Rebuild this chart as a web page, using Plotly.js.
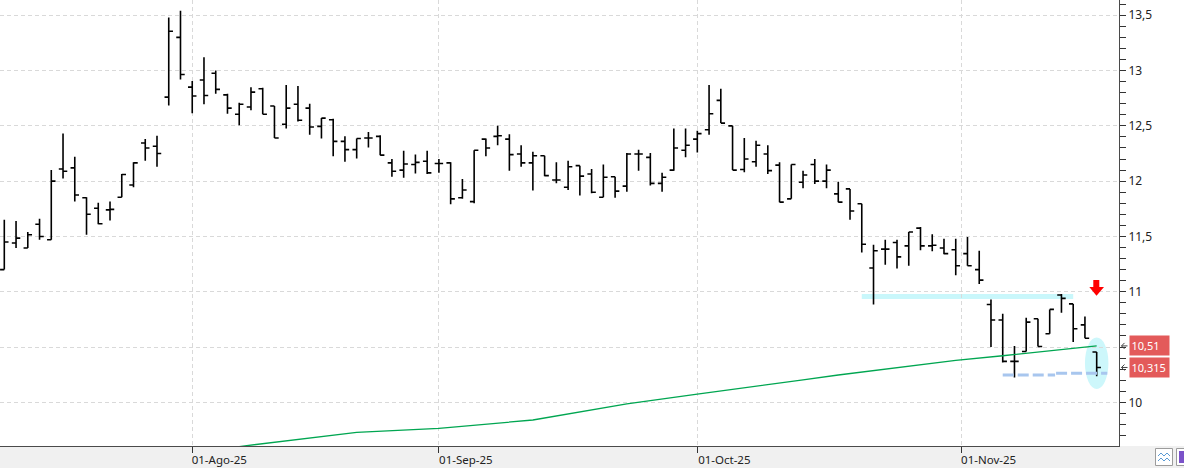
<!DOCTYPE html>
<html>
<head>
<meta charset="utf-8">
<script src="https://cdn.plot.ly/plotly-3.0.1.min.js"></script>
<style>
  html, body { margin: 0; padding: 0; background: #ffffff; }
  #chart { width: 1184px; height: 468px; }
</style>
</head>
<body>
<div id="chart"></div>
<script>
// ---- data (trading days) ----
const dates = [
  '2025-07-10','2025-07-11','2025-07-14','2025-07-15','2025-07-16','2025-07-17','2025-07-18',
  '2025-07-21','2025-07-22','2025-07-23','2025-07-24','2025-07-25','2025-07-28','2025-07-29',
  '2025-07-30','2025-07-31',
  '2025-08-01','2025-08-04','2025-08-05','2025-08-06','2025-08-07','2025-08-08','2025-08-11',
  '2025-08-12','2025-08-13','2025-08-14','2025-08-15','2025-08-18','2025-08-19','2025-08-20',
  '2025-08-21','2025-08-22','2025-08-25','2025-08-26','2025-08-27','2025-08-28','2025-08-29',
  '2025-09-01','2025-09-02','2025-09-03','2025-09-04','2025-09-05','2025-09-08','2025-09-09',
  '2025-09-10','2025-09-11','2025-09-12','2025-09-15','2025-09-16','2025-09-17','2025-09-18',
  '2025-09-19','2025-09-22','2025-09-23','2025-09-24','2025-09-25','2025-09-26','2025-09-29',
  '2025-09-30',
  '2025-10-01','2025-10-02','2025-10-03','2025-10-06','2025-10-07','2025-10-08','2025-10-09',
  '2025-10-10','2025-10-13','2025-10-14','2025-10-15','2025-10-16','2025-10-17','2025-10-20',
  '2025-10-21','2025-10-22','2025-10-23','2025-10-24','2025-10-27','2025-10-28','2025-10-29',
  '2025-10-30','2025-10-31',
  '2025-11-03','2025-11-04','2025-11-05','2025-11-06','2025-11-07','2025-11-10','2025-11-11',
  '2025-11-12','2025-11-13','2025-11-14','2025-11-17','2025-11-18'
];
const openP = [
  11.20,11.44,11.395,11.61,11.47,12.11,12.12,11.85,11.755,11.74,11.855,11.965,12.345,12.315,12.76,13.30,
  12.85,12.915,12.975,12.78,12.605,12.67,12.835,12.68,12.515,12.695,12.66,12.495,12.555,12.36,12.285,12.39,12.405,12.165,12.10,12.15,12.18,
  12.16,12.165,11.85,11.815,12.38,12.405,12.38,12.245,12.165,12.23,12.01,11.945,12.14,12.065,11.855,12.04,11.955,12.245,12.215,11.98,12.10,12.28,
  12.38,12.465,12.73,12.50,12.105,12.175,12.245,12.145,11.84,11.99,12.15,12.00,11.885,11.93,11.795,11.215,11.385,11.445,11.415,11.575,11.415,11.395,11.38,
  11.345,11.20,10.885,10.745,10.37,10.46,10.755,10.62,10.97,10.89,10.70,10.455
];
const highP = [
  11.65,11.64,11.54,11.66,12.10,12.43,12.22,11.855,11.805,11.815,12.065,12.17,12.38,12.41,13.48,13.54,
  12.905,13.12,13.00,12.79,12.71,12.85,12.845,12.68,12.87,12.86,12.70,12.57,12.565,12.405,12.385,12.445,12.415,12.20,12.275,12.24,12.275,
  12.20,12.17,12.02,12.28,12.385,12.50,12.425,12.325,12.265,12.23,12.17,12.185,12.14,12.11,12.15,12.04,12.255,12.285,12.255,12.075,12.475,12.475,
  12.455,12.87,12.835,12.50,12.39,12.365,12.325,12.17,12.15,12.095,12.20,12.15,11.995,11.93,11.795,11.425,11.47,11.47,11.54,11.585,11.52,11.48,11.48,
  11.495,11.37,10.93,10.80,10.51,10.765,10.755,10.84,10.98,10.89,10.775,10.455
];
const lowP = [
  11.20,11.395,11.395,11.47,11.47,12.025,11.815,11.515,11.61,11.645,11.855,11.945,12.185,12.13,12.685,12.92,
  12.615,12.695,12.79,12.61,12.505,12.64,12.605,12.39,12.475,12.54,12.42,12.385,12.225,12.175,12.205,12.305,12.235,12.04,12.03,12.07,12.065,
  12.075,11.79,11.84,11.80,12.225,12.325,12.095,12.13,11.915,12.045,11.98,11.92,11.87,11.89,11.855,11.85,11.905,12.095,11.96,11.905,12.095,12.215,
  12.26,12.42,12.525,12.10,12.08,12.13,12.065,11.81,11.84,11.935,11.975,11.935,11.81,11.65,11.355,10.885,11.245,11.21,11.235,11.375,11.365,11.34,11.15,
  11.235,11.07,10.50,10.36,10.225,10.46,10.505,10.62,10.81,10.545,10.58,10.235
];
const closeP = [
  11.45,11.485,11.515,11.50,12.00,12.09,11.875,11.70,11.615,11.745,12.06,12.165,12.30,12.25,13.355,12.965,
  12.77,12.775,12.83,12.66,12.695,12.805,12.605,12.39,12.66,12.55,12.49,12.57,12.36,12.285,12.385,12.39,12.235,12.09,12.155,12.17,12.075,
  12.16,11.84,11.92,12.28,12.30,12.41,12.24,12.165,12.23,12.05,12.01,12.13,12.045,11.90,12.035,11.91,12.245,12.245,11.98,12.035,12.30,12.325,
  12.43,12.61,12.525,12.10,12.20,12.325,12.095,11.81,12.15,12.055,12.00,12.10,11.81,11.73,11.43,11.37,11.385,11.315,11.54,11.415,11.42,11.345,11.235,
  11.235,11.105,10.745,10.37,10.37,10.725,10.505,10.84,10.94,10.665,10.58,10.315
];
// moving average readings (date, value)
const maDates = ['2025-08-07','2025-08-21','2025-09-01','2025-09-11','2025-09-23','2025-10-01',
                 '2025-10-14','2025-10-17','2025-10-31','2025-11-06','2025-11-18'];
const maValues = [9.600,9.729,9.765,9.840,9.985,10.075,10.202,10.247,10.380,10.421,10.51];
// drawn levels
const resistanceLevel = 10.957;   // cyan highlight
const resistanceFrom = '2025-10-21', resistanceTo = '2025-11-14';
const supportLevels = [10.248, 10.262]; // dashed blue
const tickDates = ['2025-08-01 12:00','2025-09-01 12:00','2025-10-01 12:00','2025-10-31 23:59'];
const tickLabels = ['01-Ago-25','01-Sep-25','01-Oct-25','01-Nov-25'];
const yTickVals = [10, 10.5, 11, 11.5, 12, 12.5, 13, 13.5];
const yTickText = ['10', '', '11', '11,5', '12', '12,5', '13', '13,5'];

// ---- geometry helpers ----
const W = 1184, H = 468, ML = 0, MR = 65, MT = 0, MB = 22;
const PW = W - ML - MR, PH = H - MT - MB;
const yMin = 9.605, yMax = 13.638;
const px = x => (x - ML) / PW;          // pixel -> paper x
const py = y => 1 - (y - MT) / PH;      // pixel -> paper y
const vy = v => (v - yMin) / (yMax - yMin); // value -> paper y
const mid = d => d + ' 12:00';
const fmt = v => String(v).replace('.', ',');

const x = dates.map(mid);
const last = dates.length - 1;

const traces = [
  {
    type: 'scatter', mode: 'lines', x: maDates.map(mid), y: maValues,
    line: { color: '#00a651', width: 1.3 }, hoverinfo: 'skip'
  },
  {
    type: 'ohlc', x: x, open: openP, high: highP, low: lowP, close: closeP,
    increasing: { line: { color: '#000000', width: 1.6 } },
    decreasing: { line: { color: '#000000', width: 1.6 } },
    tickwidth: 0.36, hoverinfo: 'skip'
  }
];

const shapes = [
  // bottom band
  { type: 'rect', xref: 'paper', yref: 'paper', x0: px(-2), x1: px(W + 2), y0: py(H + 2), y1: py(PH + MT),
    fillcolor: '#f0f0f0', line: { width: 0 }, layer: 'below' },
  // cyan ellipse around last bar
  { type: 'circle', xref: 'x', yref: 'y', x0: mid(dates[last - 1]), x1: '2025-11-19 12:00',
    y0: 10.121, y1: 10.587, fillcolor: '#cdf7fb', line: { width: 0 }, layer: 'below' },
  // cyan highlight resistance
  { type: 'line', xref: 'x', yref: 'y', x0: mid(resistanceFrom), x1: mid(resistanceTo),
    y0: resistanceLevel, y1: resistanceLevel, line: { color: '#c9f7fb', width: 5 }, layer: 'below' },
  // dashed support line
  { type: 'line', xref: 'x', yref: 'y', x0: mid('2025-11-06'), x1: '2025-11-12 23:00',
    y0: supportLevels[0], y1: supportLevels[0], line: { color: '#a8c6ee', width: 3, dash: '11px,4px' }, layer: 'above' },
  { type: 'line', xref: 'x', yref: 'y', x0: '2025-11-13 01:00', x1: '2025-11-19 09:36',
    y0: supportLevels[1], y1: supportLevels[1], line: { color: '#a8c6ee', width: 3, dash: '11px,4px' }, layer: 'above' },
  // red down arrow
  { type: 'path', xref: 'paper', yref: 'paper',
    path: `M${px(1093.3)},${py(280)} L${px(1099.3)},${py(280)} L${px(1099.3)},${py(287)} L${px(1104)},${py(287)} L${px(1096.5)},${py(295.7)} L${px(1089.3)},${py(287)} L${px(1093.3)},${py(287)} Z`,
    fillcolor: '#ff0000', line: { width: 0 }, layer: 'above' },
  // icons bottom right
  { type: 'rect', xref: 'paper', yref: 'paper', x0: px(1155.5), x1: px(1172.5), y0: py(465.5), y1: py(448.5),
    fillcolor: '#ffffff', line: { color: '#9c9c9c', width: 1 } },
  { type: 'path', xref: 'paper', yref: 'paper',
    path: `M${px(1158)},${py(456)} L${px(1161)},${py(453)} L${px(1164)},${py(456)} L${px(1167)},${py(453)} L${px(1170)},${py(456)} M${px(1158)},${py(461)} L${px(1161)},${py(458)} L${px(1164)},${py(461)} L${px(1167)},${py(458)} L${px(1170)},${py(461)}`,
    line: { color: '#5b9bd5', width: 1 } },
  { type: 'rect', xref: 'paper', yref: 'paper', x0: px(1176.5), x1: px(1192), y0: py(465.5), y1: py(448.5),
    fillcolor: '#ffffff', line: { color: '#9c9c9c', width: 1 } },
  { type: 'rect', xref: 'paper', yref: 'paper', x0: px(1179), x1: px(1192), y0: py(463), y1: py(451),
    fillcolor: '#7b52c9', line: { width: 0 } }
];

// small arrows next to price labels
[maValues[maValues.length - 1], closeP[last]].forEach(v => {
  const yy = vy(v), d = 3 / PH;
  shapes.push({ type: 'path', xref: 'paper', yref: 'paper',
    path: `M${px(1127.5)},${yy} L${px(1121.5)},${yy} M${px(1124.5)},${yy + d} L${px(1121.5)},${yy} L${px(1124.5)},${yy - d}`,
    line: { color: '#444444', width: 1 } });
});

const annotations = [maValues[maValues.length - 1], closeP[last]].map(v => ({
  xref: 'paper', yref: 'paper', x: px(1129), xanchor: 'left', y: vy(v), yanchor: 'middle',
  text: fmt(v), showarrow: false, align: 'left',
  font: { family: 'Noto Sans, sans-serif', size: 11, color: '#ffffff' },
  bgcolor: '#e35a5a', borderpad: 1.5, width: 36, height: 16
}));

const layout = {
  width: W, height: H,
  margin: { l: ML, r: MR, t: MT, b: MB, pad: 0 },
  paper_bgcolor: '#ffffff', plot_bgcolor: '#ffffff',
  separators: ',.',
  showlegend: false,
  font: { family: 'Noto Sans, sans-serif', size: 12, color: '#222222' },
  xaxis: {
    type: 'date',
    range: ['2025-07-10 03:13', '2025-11-20 09:35'],
    rangebreaks: [{ bounds: ['sat', 'mon'] }],
    rangeslider: { visible: false },
    tickmode: 'array', tickvals: tickDates, ticktext: tickLabels,
    showgrid: true, gridcolor: '#d9d9d9', griddash: '4px,3px', gridwidth: 1,
    ticks: 'outside', ticklen: 6, tickcolor: '#333333', tickwidth: 1,
    ticklabelshift: 27, ticklabelstandoff: -3,
    showline: true, linecolor: '#4a4a4a', linewidth: 1,
    tickfont: { size: 11.5, color: '#222222' },
    zeroline: false, fixedrange: true
  },
  yaxis: {
    side: 'right',
    range: [yMin, yMax],
    tickmode: 'array', tickvals: yTickVals, ticktext: yTickText,
    showgrid: true, gridcolor: '#d9d9d9', griddash: '4px,3px', gridwidth: 1,
    ticks: 'outside', ticklen: 6, tickcolor: '#333333', tickwidth: 1,
    minor: { tickmode: 'linear', tick0: 10, dtick: 0.1, ticks: 'outside', ticklen: 6, tickcolor: '#333333', showgrid: false },
    showline: true, linecolor: '#4a4a4a', linewidth: 1,
    tickfont: { size: 12, color: '#222222' },
    zeroline: false, fixedrange: true
  },
  shapes: shapes,
  annotations: annotations
};

Plotly.newPlot('chart', traces, layout, { staticPlot: true, displayModeBar: false });
</script>
</body>
</html>
